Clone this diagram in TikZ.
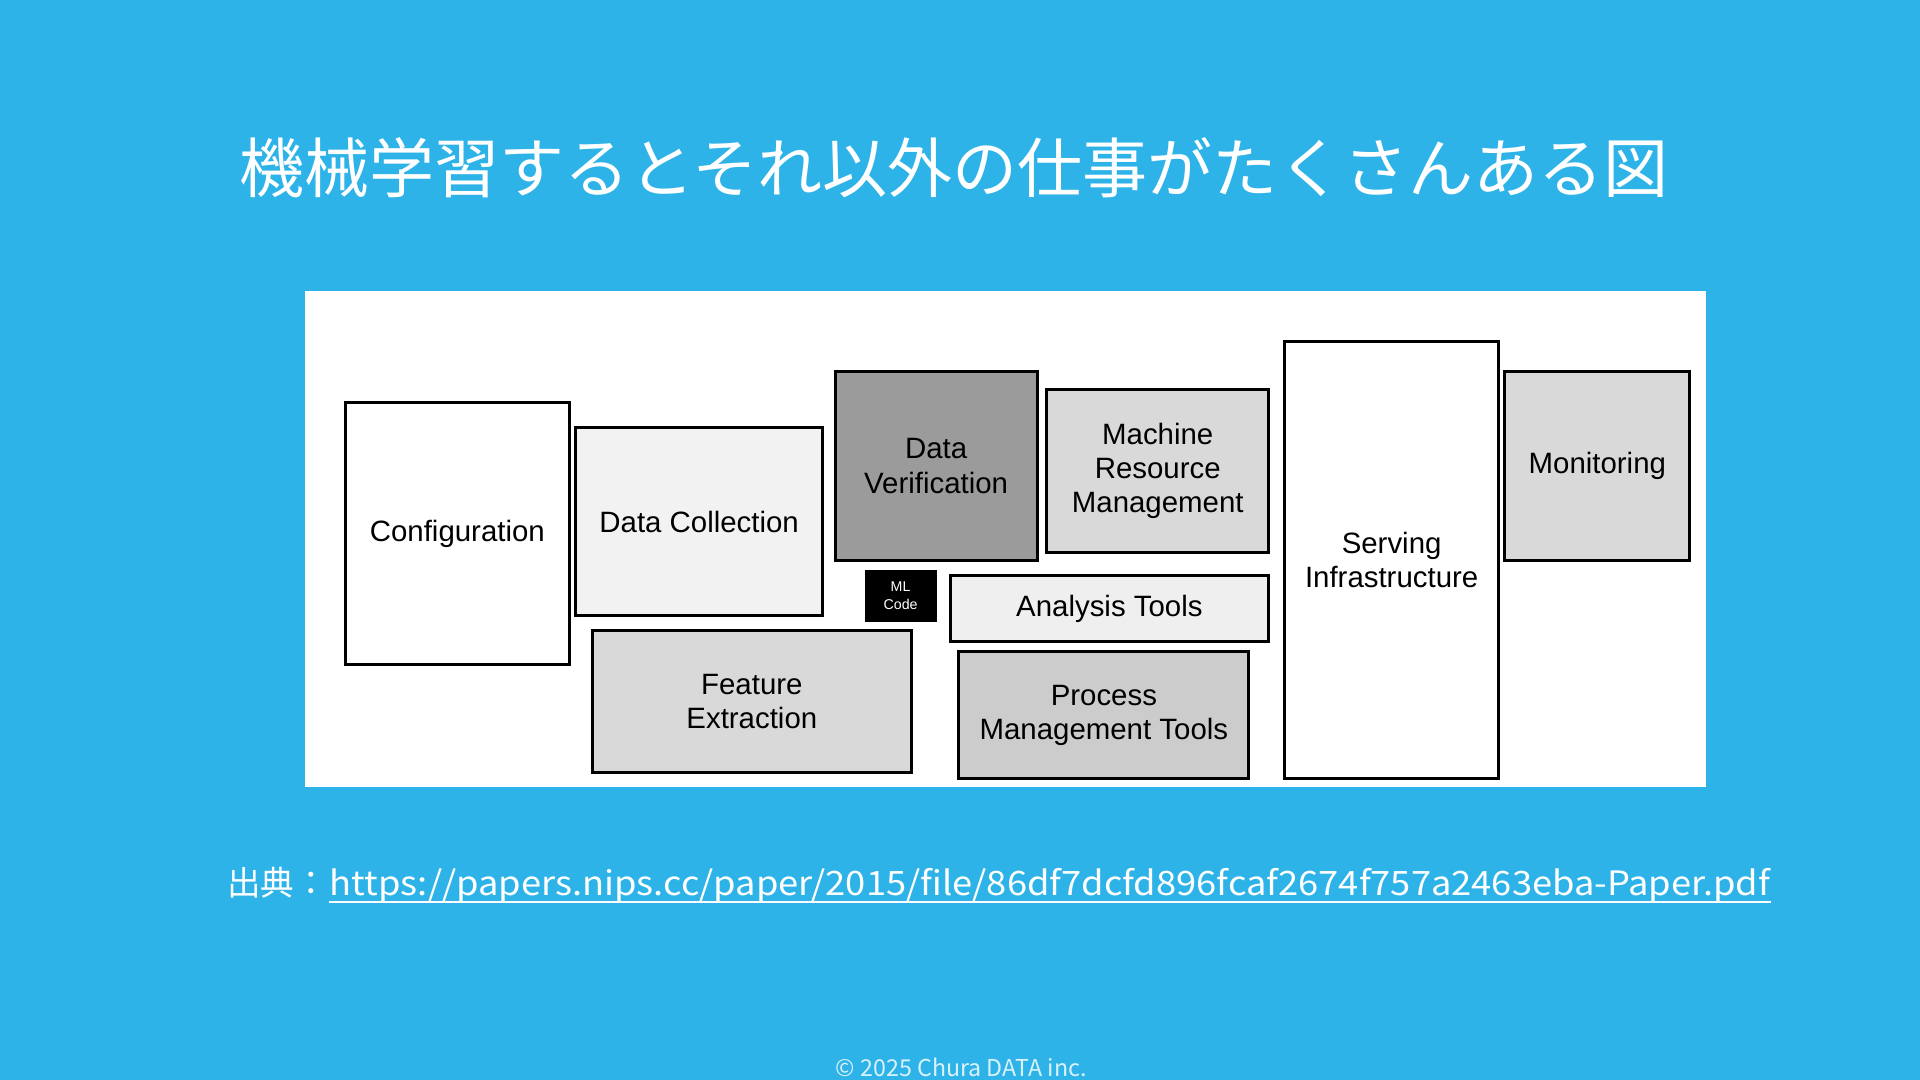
\documentclass[tikz,border=0pt]{standalone}
\usepackage{fontspec}
\usepackage{graphicx}
\setmainfont{Liberation Sans}
\newfontfamily\jp{Noto Sans CJK JP}
\definecolor{bg}{HTML}{2DB3E8}
\definecolor{gA}{HTML}{F2F2F2}
\definecolor{gB}{HTML}{9B9B9B}
\definecolor{gC}{HTML}{D9D9D9}
\definecolor{gD}{HTML}{CCCCCC}
\definecolor{gE}{HTML}{EFEFEF}
% \mybox{name}{x1}{y1}{x2}{y2}{style}{text}
\newcommand\mybox[7]{\node[#6, minimum width={(#4-#2)*0.01cm}, minimum height={(#5-#3)*0.01cm}] (#1) at ({(#2+#4)/2},{(#3+#5)/2}) {#7};}
\begin{document}
\begin{tikzpicture}[x=0.01cm,y=-0.01cm,
  box/.style={draw=black, line width=0.7pt, inner sep=0pt, align=center,
    font=\fontsize{6.83pt}{7.97pt}\selectfont},
  mlbox/.style={fill=black, draw=black, line width=0.5pt, inner sep=0pt, align=center, text=white,
    font=\fontsize{3.3pt}{4pt}\selectfont},
  titletext/.style={text=white, inner sep=0pt, font=\jp\fontsize{15.1pt}{16pt}\selectfont},
  citetext/.style={text=white, inner sep=0pt, font=\jp\fontsize{7.8pt}{9pt}\selectfont},
  copytext/.style={text=white!82!bg, inner sep=0pt, font=\jp\fontsize{5.4pt}{6pt}\selectfont}]
\fill[bg] (0,0) rectangle (1568,882);
\useasboundingbox (0,0) rectangle (1568,882);
\mybox{panel}{249}{238}{1393}{643}{fill=white, inner sep=0pt}{}
\node[titletext] (title) at (779,137) {機械学習するとそれ以外の仕事がたくさんある図};
% boxes
\mybox{conf}{282}{329}{465}{543}{box, fill=white}{Configuration}
\mybox{dcoll}{470}{349}{672}{503}{box, fill=gA}{Data Collection}
\mybox{dver}{682}{303}{847}{458}{box, fill=gB}{Data\\Verification}
\mybox{mrm}{855}{318}{1036}{451}{box, fill=gC}{Machine\\Resource\\Management}
\mybox{serv}{1049}{279}{1224}{636}{box, fill=white}{Serving\\Infrastructure}
\mybox{mon}{1229}{303}{1380}{458}{box, fill=gC}{Monitoring}
\mybox{mlc}{707}{466}{764}{507}{mlbox}{ML\\Code}
\mybox{anal}{776}{470}{1036}{524}{box, fill=gE}{Analysis Tools}
\mybox{feat}{484}{515}{744}{631}{box, fill=gC}{Feature\\Extraction}
\mybox{proc}{783}{532}{1020}{636}{box, fill=gD}{Process\\Management Tools}
% citation
\node[citetext, anchor=base west] (src) at (185,731) {出典：};
\node[citetext, anchor=base west] (url) at (src.base east) {\scalebox{1.08}[1]{https://papers.nips.cc/paper/2015/file/86df7dcfd896fcaf2674f757a2463eba-Paper.pdf}};
\draw[white, line width=0.6pt] ([yshift=-1.6pt]url.base west) -- ([yshift=-1.6pt]url.base east);
\node[copytext] (copy) at (785,872) {© 2025 Chura DATA inc.};
\end{tikzpicture}
\end{document}
